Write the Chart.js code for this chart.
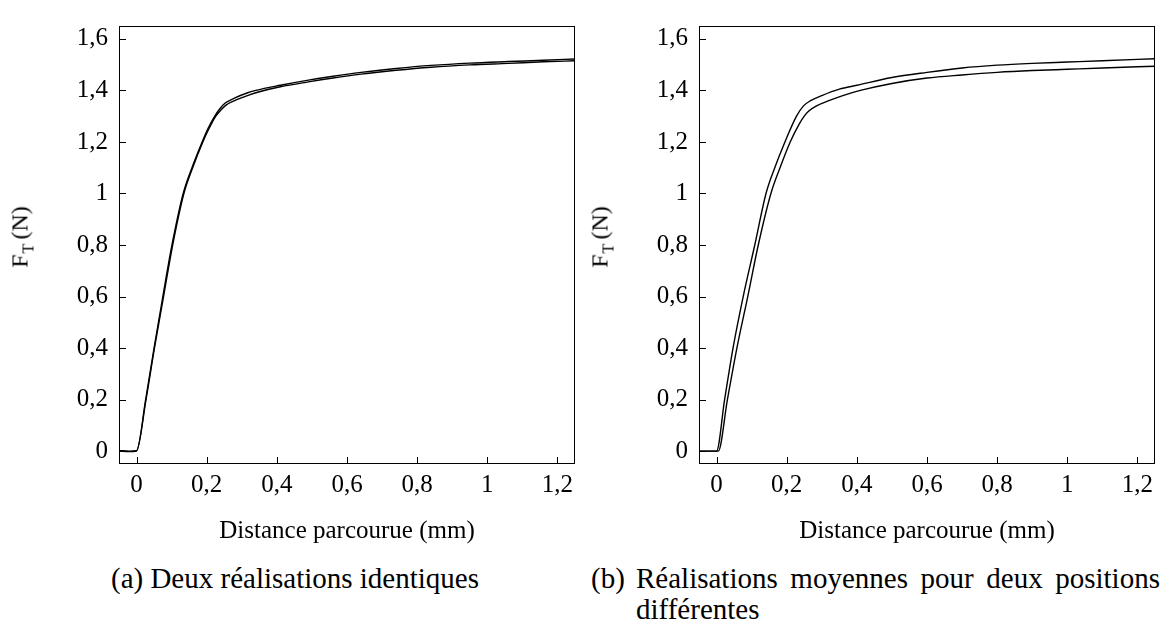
<!DOCTYPE html>
<html lang="fr">
<head>
    <meta charset="UTF-8">
    <title>Force tangentielle - distance parcourue</title>
    <script src="https://cdn.jsdelivr.net/npm/chart.js"></script>
    <style>
        body { margin: 0; background: #fff; width: 1160px; height: 621px; position: relative; overflow: hidden;
               font-family: "Liberation Serif", "Times New Roman", serif; color: #000; }
        canvas { position: absolute; top: 0; }
        .ytitle { position: absolute; top: 237px; font-size: 24px; white-space: nowrap; line-height: 1;
                  transform: translate(-50%, -50%) rotate(-90deg); }
        .ytitle sub { font-size: 16px; vertical-align: -6px; margin-left: 1px; margin-right: 4px; }
        .cap { position: absolute; font-size: 29px; line-height: 32px; white-space: nowrap; }
    </style>
</head>
<body>
    <canvas id="chartA" width="580" height="560" style="left:0"></canvas>
    <canvas id="chartB" width="580" height="560" style="left:580px"></canvas>

    <div class="ytitle" style="left:22px">F<sub>T</sub>(N)</div>
    <div class="ytitle" style="left:602px">F<sub>T</sub>(N)</div>

    <!-- Captions -->
    <div class="cap" style="left:295px; top:562px; transform:translateX(-50%)">(a) Deux réalisations identiques</div>
    <div class="cap" style="left:591px; top:562px">(b)</div>
    <div class="cap" style="left:636px; top:562px; width:524px; display:flex; justify-content:space-between">
        <span>Réalisations</span><span>moyennes</span><span>pour</span><span>deux</span><span>positions</span>
    </div>
    <div class="cap" style="left:636px; top:593px">différentes</div>

    <script>
        // Axis ticks
        const xTicks = [0, 0.2, 0.4, 0.6, 0.8, 1, 1.2];
        const xTickLabels = ['0', '0,2', '0,4', '0,6', '0,8', '1', '1,2'];
        const yTicks = [0, 0.2, 0.4, 0.6, 0.8, 1, 1.2, 1.4, 1.6];
        const yTickLabels = ['0', '0,2', '0,4', '0,6', '0,8', '1', '1,2', '1,4', '1,6'];

        // (a) two identical runs
        const runA1X = [-0.05, -0.02, 0.0, 0.026, 0.050, 0.075, 0.101, 0.133, 0.158, 0.187, 0.203, 0.223, 0.238, 0.252, 0.279, 0.315, 0.340, 0.410, 0.490, 0.560, 0.640, 0.740, 0.840, 0.950, 1.060, 1.160, 1.250];
        const runA1Y = [0, -0.002, 0, 0.2, 0.4, 0.6, 0.8, 1.0, 1.1, 1.2, 1.25, 1.30, 1.33, 1.35, 1.37, 1.39, 1.40, 1.42, 1.44, 1.455, 1.47, 1.485, 1.497, 1.506, 1.512, 1.517, 1.522];
        const runA2X = [-0.05, -0.02, 0.0, 0.027, 0.051, 0.077, 0.103, 0.135, 0.160, 0.189, 0.206, 0.226, 0.242, 0.256, 0.284, 0.320, 0.345, 0.410, 0.490, 0.560, 0.640, 0.740, 0.840, 0.950, 1.060, 1.160, 1.250];
        const runA2Y = [0.002, 0, 0.002, 0.2, 0.4, 0.6, 0.8, 1.0, 1.1, 1.2, 1.25, 1.30, 1.326, 1.344, 1.363, 1.382, 1.393, 1.414, 1.433, 1.448, 1.463, 1.478, 1.49, 1.499, 1.505, 1.511, 1.515];

        // (b) mean runs for two positions
        const posB1X = [-0.05, -0.02, 0.0, 0.023, 0.047, 0.076, 0.109, 0.141, 0.166, 0.195, 0.228, 0.248, 0.268, 0.300, 0.350, 0.400, 0.500, 0.600, 0.700, 0.800, 0.900, 1.000, 1.100, 1.250];
        const posB1Y = [0, 0, 0, 0.2, 0.4, 0.6, 0.8, 1.0, 1.1, 1.2, 1.3, 1.34, 1.36, 1.38, 1.405, 1.42, 1.45, 1.47, 1.487, 1.498, 1.505, 1.51, 1.515, 1.523];
        const posB2X = [-0.05, -0.02, 0.005, 0.031, 0.058, 0.089, 0.119, 0.155, 0.181, 0.210, 0.236, 0.250, 0.263, 0.285, 0.320, 0.360, 0.410, 0.500, 0.600, 0.700, 0.800, 0.900, 1.000, 1.100, 1.250];
        const posB2Y = [0, 0, 0, 0.2, 0.4, 0.6, 0.8, 1.0, 1.1, 1.2, 1.27, 1.30, 1.32, 1.34, 1.36, 1.38, 1.40, 1.427, 1.448, 1.46, 1.47, 1.477, 1.482, 1.487, 1.494];

        const FONT = '"Liberation Serif", "Times New Roman", serif';

        // box around the plot + inward tick marks
        const frameTicks = {
            id: 'frameTicks',
            afterDraw(chart) {
                const { ctx, chartArea: a, scales: { x, y } } = chart;
                ctx.save();
                ctx.strokeStyle = '#000';
                ctx.lineWidth = 1;
                ctx.strokeRect(a.left + 0.5, a.top + 0.5, a.right - a.left - 1, a.bottom - a.top - 1);
                ctx.beginPath();
                x.ticks.forEach(t => {
                    const px = Math.round(x.getPixelForValue(t.value)) + 0.5;
                    ctx.moveTo(px, a.bottom);
                    ctx.lineTo(px, a.bottom - 7);
                });
                y.ticks.forEach(t => {
                    const py = Math.round(y.getPixelForValue(t.value)) + 0.5;
                    ctx.moveTo(a.left, py);
                    ctx.lineTo(a.left + 7, py);
                });
                ctx.stroke();
                ctx.restore();
            }
        };

        function toPoints(xs, ys) {
            return xs.map((v, i) => ({ x: v, y: ys[i] }));
        }

        function makeChart(id, series) {
            return new Chart(document.getElementById(id), {
                type: 'line',
                data: {
                    datasets: series.map(s => ({
                        data: toPoints(s[0], s[1]),
                        borderColor: '#000',
                        borderWidth: 1.4,
                        pointRadius: 0,
                        fill: false,
                        cubicInterpolationMode: 'monotone'
                    }))
                },
                options: {
                    responsive: false,
                    animation: false,
                    devicePixelRatio: 1,
                    layout: { padding: { top: 10, right: 5, bottom: 0, left: 0 } },
                    plugins: { legend: { display: false }, tooltip: { enabled: false } },
                    scales: {
                        x: {
                            type: 'linear',
                            min: -0.05,
                            max: 1.25,
                            grid: { display: false, drawTicks: false },
                            border: { display: false },
                            afterBuildTicks: s => { s.ticks = xTicks.map(v => ({ value: v })); },
                            afterFit: s => { s.height = 96; },
                            ticks: {
                                color: '#000',
                                padding: 6,
                                maxRotation: 0,
                                autoSkip: false,
                                font: { family: FONT, size: 25 },
                                callback: (v, i) => xTickLabels[i]
                            },
                            title: {
                                display: true,
                                text: 'Distance parcourue (mm)',
                                color: '#000',
                                font: { family: FONT, size: 25 },
                                padding: { top: 0, bottom: 14 }
                            }
                        },
                        y: {
                            type: 'linear',
                            min: -0.05,
                            max: 1.65,
                            grid: { display: false, drawTicks: false },
                            border: { display: false },
                            afterBuildTicks: s => { s.ticks = yTicks.map(v => ({ value: v })); },
                            afterFit: s => { s.width = 119; },
                            ticks: {
                                color: '#000',
                                padding: 11,
                                autoSkip: false,
                                font: { family: FONT, size: 25 },
                                callback: (v, i) => yTickLabels[i]
                            }
                        }
                    }
                },
                plugins: [frameTicks]
            });
        }

        makeChart('chartA', [[runA1X, runA1Y], [runA2X, runA2Y]]);
        makeChart('chartB', [[posB1X, posB1Y], [posB2X, posB2Y]]);
    </script>
</body>
</html>
